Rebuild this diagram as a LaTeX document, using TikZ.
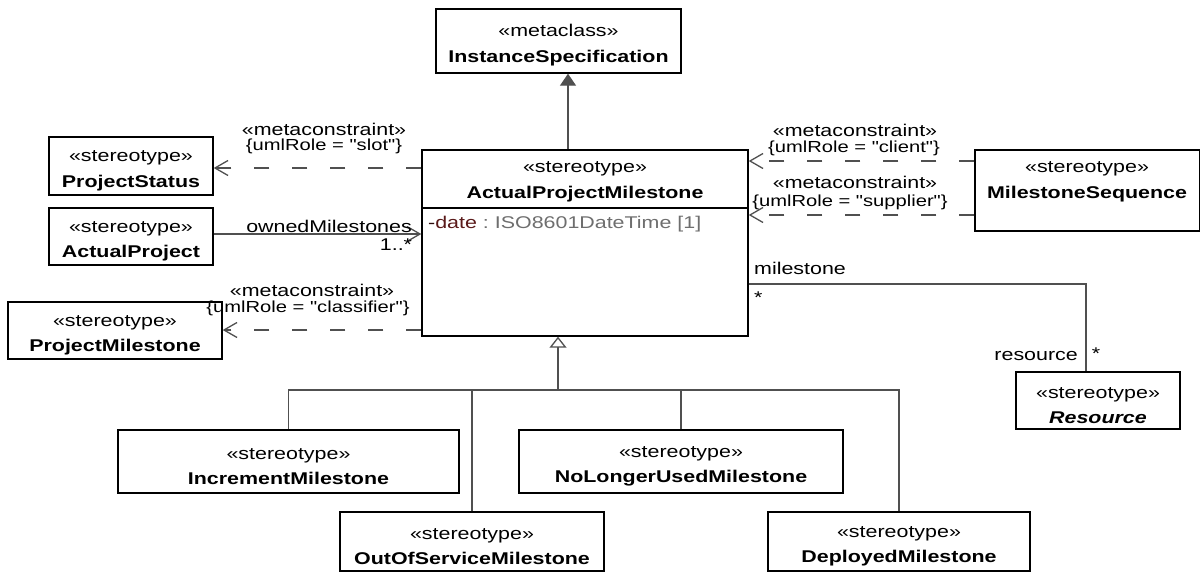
\documentclass[tikz,border=0pt]{standalone}
\usepackage{fontspec}
\setmainfont{Liberation Sans}[FakeStretch=1.26,Ligatures=TeXOff]
\usetikzlibrary{arrows.meta}
\definecolor{conn}{HTML}{505050}
\definecolor{attrdark}{HTML}{2A0A0A}
\definecolor{attrred}{HTML}{5A1A1A}
\definecolor{attrgray}{HTML}{6E6E6E}
\newcommand{\topstrut}{\rule{0pt}{21pt}}
\begin{document}
\begin{tikzpicture}[x=1pt,y=-1pt,
  box/.style={draw=black,line width=1.4pt,inner sep=0pt,align=center,font=\fontsize{17}{25.5}\selectfont},
  boxtext/.style={inner sep=0pt,align=center,font=\fontsize{17}{25.5}\selectfont},
  lbl/.style={inner sep=0pt,font=\fontsize{17}{19}\selectfont},
  rolelbl/.style={inner sep=0pt,font=\fontsize{16}{17}\selectfont},
  conline/.style={draw=conn,line width=1.3pt},
  barb/.style={-{Straight Barb[length=13pt,width=15pt,line width=1.3pt]}},
  depline/.style={conline,barb,dash pattern=on 15pt off 23pt},
]
\useasboundingbox (0,0) rectangle (1201,572);

% helper coordinates
\coordinate (y161) at (0,161);
\coordinate (y168) at (0,168);
\coordinate (y208) at (0,208);
\coordinate (y215) at (0,215);
\coordinate (y234) at (0,234);
\coordinate (y284) at (0,284);
\coordinate (y330) at (0,330);
\coordinate (c568) at (568,0);
\coordinate (c1086) at (1086,284);
\coordinate (gbar) at (558,390);

% boxes
\node[box,minimum width=245pt,minimum height=64pt] (inst) at (558.5,41) {\topstrut«metaclass»\\\textbf{InstanceSpecification}};
\node[box,minimum width=164pt,minimum height=58pt] (pstatus) at (131,166) {\topstrut«stereotype»\\\textbf{ProjectStatus}};
\node[box,minimum width=164pt,minimum height=57pt] (aproject) at (131,236.5) {\topstrut«stereotype»\\\textbf{ActualProject}};
\node[box,minimum width=214pt,minimum height=57pt] (pmile) at (115,330.5) {\topstrut«stereotype»\\\textbf{ProjectMilestone}};
\node[box,minimum width=326pt,minimum height=186pt] (apm) at (585,243) {};
\node[boxtext] (apmhead) at (585,177) {\topstrut«stereotype»\\\textbf{ActualProjectMilestone}};
\draw[line width=1.4pt] (apm.west |- y208) -- (apm.east |- y208);
\node[anchor=west,inner sep=0pt,font=\fontsize{17}{19}\selectfont] (apmattr) at (428,224)
  {\textcolor{attrdark}{-}\textcolor{attrred}{date}\textcolor{attrgray}{~:~ISO8601DateTime~[1]}};
\node[box,minimum width=224.5pt,minimum height=81pt] (mseq) at (1087.25,190.5) {};
\node[boxtext] (mseqtext) at (1087,177) {\topstrut«stereotype»\\\textbf{MilestoneSequence}};
\node[box,minimum width=164pt,minimum height=57pt] (resource) at (1098,400.5) {\topstrut«stereotype»\\\textbf{\textit{Resource}}};
\node[box,minimum width=341pt,minimum height=63pt] (inc) at (288.5,461.5) {\topstrut«stereotype»\\\textbf{IncrementMilestone}};
\node[box,minimum width=324pt,minimum height=63pt] (nlu) at (681,461.5) {\topstrut«stereotype»\\\textbf{NoLongerUsedMilestone}};
\node[box,minimum width=264pt,minimum height=59pt] (oos) at (472,541.5) {\topstrut«stereotype»\\\textbf{OutOfServiceMilestone}};
\node[box,minimum width=262pt,minimum height=59pt] (dep) at (899,541.5) {\topstrut«stereotype»\\\textbf{DeployedMilestone}};

% generalization to metaclass
\draw[conline,-{Triangle[length=12pt,width=16pt]}] (apm.north -| c568) -- (inst.south -| c568);

% dependencies (metaconstraints)
\draw[depline] (apm.west |- y168) -- (pstatus.east |- y168);
\draw[depline] (apm.west |- y330) -- (pmile.east |- y330);
\draw[depline] (mseq.west |- y161) -- (apm.east |- y161);
\draw[depline] (mseq.west |- y215) -- (apm.east |- y215);

% association ownedMilestones
\draw[conline,barb] (aproject.east |- y234) -- (apm.west |- y234);
\node[lbl] (owned) at (329,226) {ownedMilestones};
\node[lbl] (ownedmult) at (396,245) {1..*};

% association milestone/resource
\draw[conline] (apm.east |- y284) -- (c1086) -- (resource.north -| c1086);
\node[lbl,anchor=west] (milestonelbl) at (754,268) {milestone};
\node[lbl,anchor=west] (milestonemult) at (754,298) {*};
\node[lbl,anchor=east] (resourcelbl) at (1078,356) {resource};
\node[lbl] (resourcemult) at (1096,354) {*};

% constraint labels
\node[lbl] (mcslot) at (324,129) {«metaconstraint»};
\node[rolelbl] (roleslot) at (324,146) {\{umlRole = "slot"\}};
\node[lbl] (mcclient) at (855,130) {«metaconstraint»};
\node[rolelbl] (roleclient) at (854,148) {\{umlRole = "client"\}};
\node[lbl] (mcsupplier) at (855,182) {«metaconstraint»};
\node[rolelbl] (rolesupplier) at (850,202) {\{umlRole = "supplier"\}};
\node[lbl] (mcclassifier) at (312,290) {«metaconstraint»};
\node[rolelbl] (roleclassifier) at (308,308) {\{umlRole = "classifier"\}};

% generalization tree
\draw[conline,-{Triangle[open,length=11pt,width=17pt]}] (gbar) -- (apm.south -| gbar);
\draw[conline] (inc.north) -- (inc.north |- gbar) -- (dep.north |- gbar) -- (dep.north);
\draw[conline] (oos.north) -- (oos.north |- gbar);
\draw[conline] (nlu.north) -- (nlu.north |- gbar);
\end{tikzpicture}
\end{document}
